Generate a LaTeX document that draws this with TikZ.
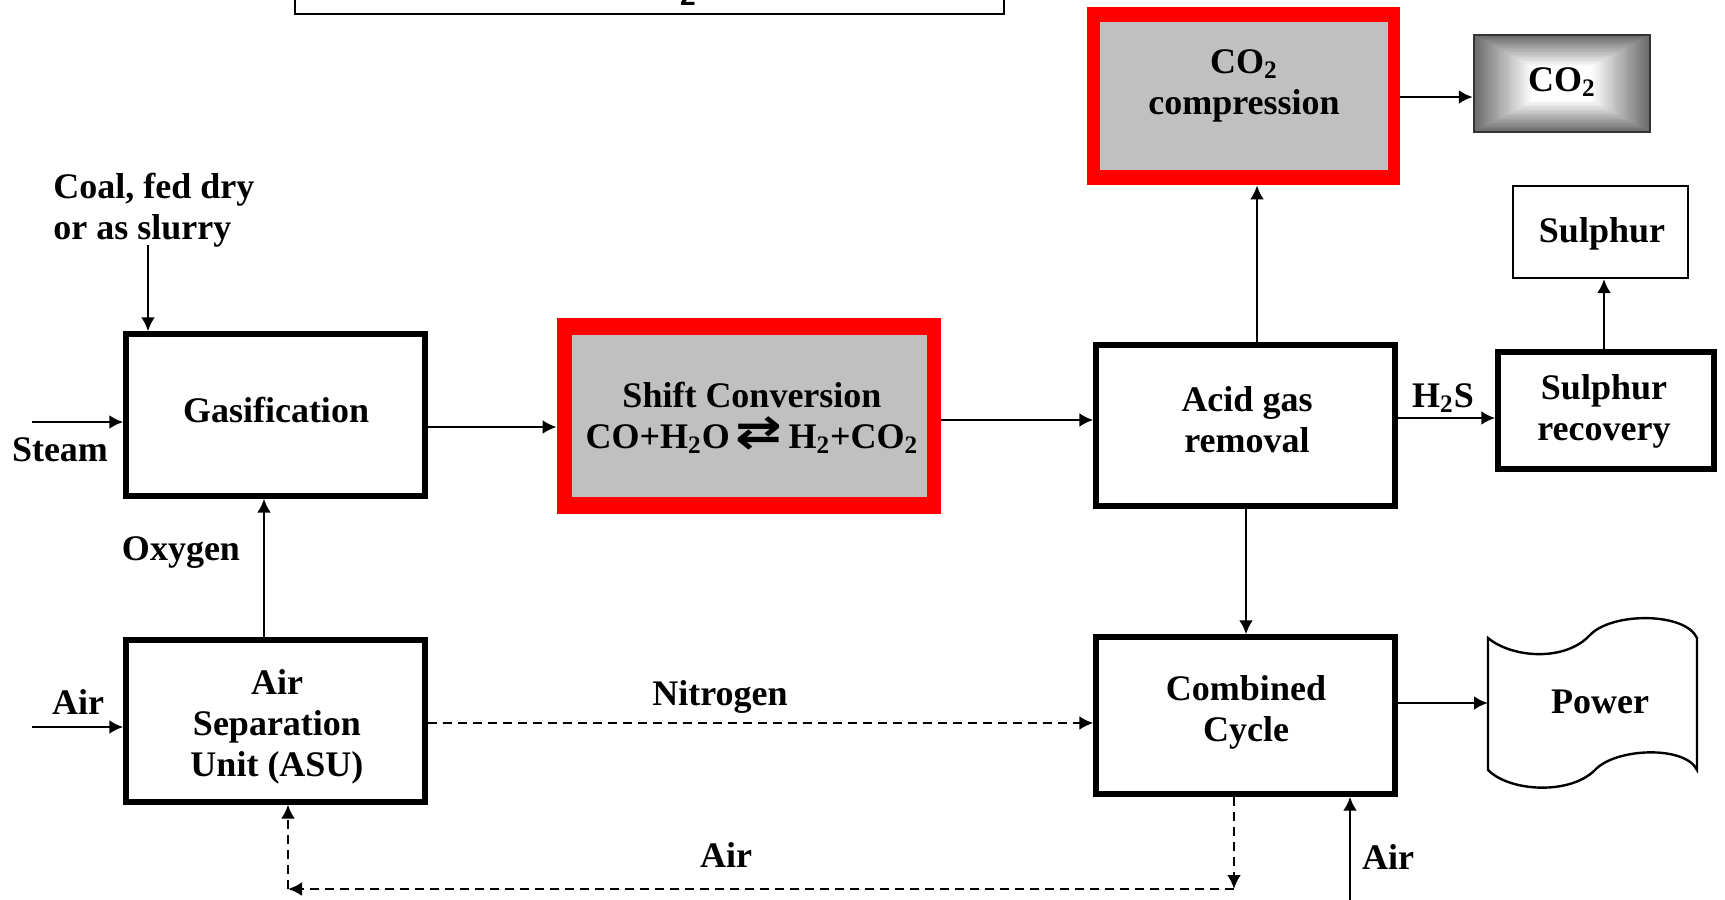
\documentclass[tikz,border=0pt]{standalone}
\usepackage{fontspec}
\setmainfont{Liberation Serif}
\newfontfamily\djv{DejaVu Sans}
\newfontfamily\lsans{Liberation Sans}
\usepackage{graphicx}
\usetikzlibrary{arrows.meta,fit}
\definecolor{boxgray}{HTML}{C0C0C0}
\definecolor{redframe}{HTML}{FF0000}
\begin{document}
\begin{tikzpicture}[x=0.5pt,y=-0.5pt,
  txt/.style={inner sep=0pt, align=center, font=\fontsize{18}{20.5}\selectfont\bfseries},
  thickbox/.style={draw, line width=2.7pt, inner sep=0pt},
  thinbox/.style={draw, line width=1pt, inner sep=0pt},
  flow/.style={line width=1.4pt, -{Latex[length=7pt,width=7pt]}},
  dflow/.style={line width=1.3pt, dash pattern=on 4.5pt off 3pt, -{Latex[length=7pt,width=7pt]}},
  dline/.style={line width=1.3pt, dash pattern=on 4.5pt off 3pt}]
\useasboundingbox (0,0) rectangle (1725,900);
\fill[white] (0,0) rectangle (1725,900);

% top cut-off box
\node[thinbox, fit={(295,-30) (1004,14)}] (topbox) {};
\node[inner sep=0pt, anchor=base, font=\fontsize{14}{14}\selectfont\lsans\bfseries] (toptxt) at (688,5) {2};

% main boxes
\node[thickbox, fit={(126,334) (425,496)}] (gas) {};
\node[txt] (gast) at (276,410) {Gasification};

\node[thickbox, fit={(126,640) (425,802)}] (asu) {};
\node[txt] (asut) at (277,727) {Air\\Separation\\Unit (ASU)};

\node[fill=redframe, inner sep=0pt, fit={(557,318) (941,514)}] (shiftr) {};
\node[fill=boxgray, inner sep=0pt, fit={(572,335) (927,497)}] (shiftg) {};
\node[txt] (shiftt) at (752,418) {Shift Conversion\\CO+H\textsubscript{2}O\,\raisebox{0.02em}{\scalebox{1.55}[1.25]{\djv ⇄}}\,H\textsubscript{2}+CO\textsubscript{2}};

\node[thickbox, fit={(1096,345) (1395,506)}] (acid) {};
\node[txt] (acidt) at (1247,420) {Acid gas\\removal};

\node[thickbox, fit={(1096,637) (1395,794)}] (cc) {};
\node[txt] (cct) at (1246,712) {Combined\\Cycle};

\node[fill=redframe, inner sep=0pt, fit={(1087,7) (1400,185)}] (co2cr) {};
\node[fill=boxgray, inner sep=0pt, fit={(1100,22) (1388,170)}] (co2cg) {};
\node[txt] (co2ct) at (1244,86) {CO\textsubscript{2}\\compression};

% CO2 product box with rectangular gradient
\foreach \i in {0,...,24} {
  \pgfmathsetmacro\p{58*(1-\i/24)}
  \fill[black!\p] (1474+\i*2.4,35+\i*1.3) rectangle (1650-\i*2.4,132-\i*1.3);
}
\node[draw=black!80, line width=1.2pt, inner sep=0pt, fit={(1474,35) (1650,132)}] (co2) {};
\node[txt] (co2t) at (1562,82) {CO\textsubscript{2}};

\node[thinbox, fit={(1513,186) (1688,278)}] (sul) {};
\node[txt] (sult) at (1602,234) {Sulphur};

\node[thickbox, fit={(1498,352) (1714,469)}] (srec) {};
\node[txt] (srect) at (1604,411) {Sulphur\\recovery};

% Power (wavy document shape)
\draw[line width=1.2pt, fill=white] (1488,638) .. controls (1512,658) and (1565,662) .. (1590,635)
  .. controls (1612,612) and (1685,612) .. (1697,638) -- (1697,770)
  .. controls (1685,745) and (1615,748) .. (1595,770)
  .. controls (1570,795) and (1510,792) .. (1488,770) -- cycle;
\coordinate (powin) at (1488,703);
\node[txt] (powt) at (1600,702) {Power};

% free labels
\node[txt, align=left, anchor=west] (coalt) at (53,210) {Coal, fed dry\\or as slurry};
\node[txt] (steamt) at (60,450) {Steam};
\node[txt] (airl) at (78,702) {Air};
\node[txt] (oxyt) at (181,553) {Oxygen};
\node[txt] (nitt) at (720,697) {Nitrogen};
\node[txt] (h2st) at (1443,398) {H\textsubscript{2}S};
\node[txt] (airb) at (726,855) {Air};
\node[txt] (airr) at (1388,857) {Air};

% feed coordinates
\coordinate (coal0) at (148,245);
\coordinate (steam0) at (32,422);
\coordinate (air0) at (32,727);
\coordinate (airr0) at (1350,900);
\coordinate (ret1) at (1234,889);
\coordinate (ret2) at (288,889);

% solid arrows
\draw[flow] (coal0) -- (coal0 |- gas.north);
\draw[flow] (steam0) -- (steam0 -| gas.west);
\draw[flow] (air0) -- (air0 -| asu.west);
\draw[flow] (asu.north -| 264,0) -- (gas.south -| 264,0);
\draw[flow] (gas.east |- 0,427) -- (shiftr.west |- 0,427);
\draw[flow] (shiftr.east |- 0,420) -- (acid.west |- 0,420);
\draw[flow] (acid.north -| 1257,0) -- (co2cr.south -| 1257,0);
\draw[flow] (co2cr.east |- 0,97) -- (co2.west |- 0,97);
\draw[flow] (acid.east |- 0,418) -- (srec.west |- 0,418);
\draw[flow] (srec.north -| 1604,0) -- (sul.south -| 1604,0);
\draw[flow] (acid.south -| 1246,0) -- (cc.north -| 1246,0);
\draw[flow] (cc.east |- powin) -- (powin);
\draw[flow] (airr0) -- (airr0 |- cc.south);

% dashed arrows
\draw[dflow] (asu.east |- 0,723) -- (cc.west |- 0,723);
\draw[dflow] (cc.south -| ret1) -- (ret1);
\draw[dflow] (ret1) -- (ret2);
\draw[dflow] (ret2) -- (ret2 |- asu.south);
\end{tikzpicture}
\end{document}
